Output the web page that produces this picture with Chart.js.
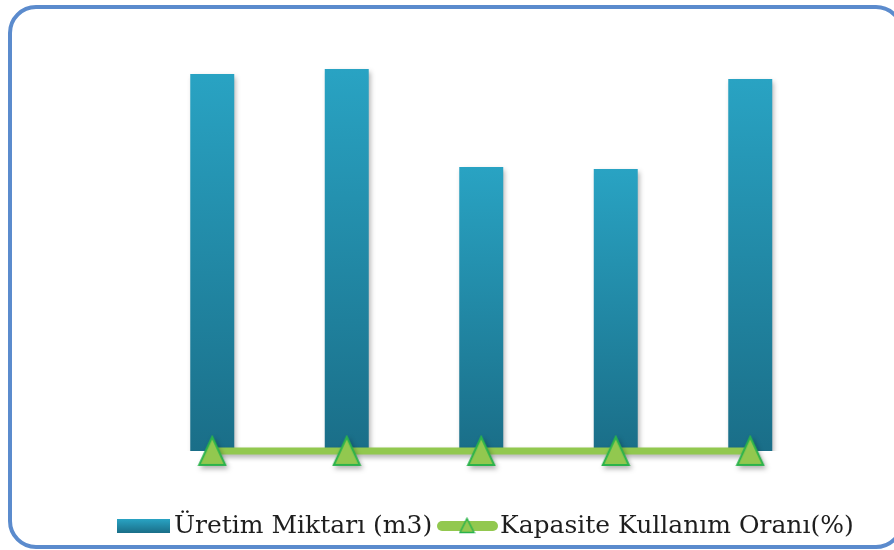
<!DOCTYPE html>
<html>
<head>
<meta charset="utf-8">
<script src="https://cdn.jsdelivr.net/npm/chart.js@4.4.1/dist/chart.umd.min.js"></script>
<style>
  html, body { margin: 0; padding: 0; background: #fff; overflow: hidden; }
  #wrap { position: relative; width: 894px; height: 550px; overflow: hidden; }
  #frame {
    position: absolute; left: 8px; top: 5px;
    width: 888px; height: 536px;
    border: 4px solid #5b8bcd; border-radius: 28px;
  }
  #c { position: absolute; left: 0; top: 0; }
</style>
</head>
<body>
<div id="wrap">
  <div id="frame"></div>
  <canvas id="c" width="894" height="550"></canvas>
</div>
<script>
// Yıllar (eksende gösterilmiyor)
const categories = ['2009', '2010', '2011', '2012', '2013'];
// Üretim miktarı, m3
const productionValues = [377000, 382000, 284000, 282000, 372000];
// Kapasite kullanım oranı, %
const capacityValues = [78, 80, 59, 58, 76];
const seriesLabels = ['Üretim Miktarı (m3)', 'Kapasite Kullanım Oranı(%)'];

const BAR_TOP = '#29a3c3';
const BAR_BOTTOM = '#1a6e88';
const LINE_GREEN = '#92c84f';
const TRI_EDGE = '#2bb34b';

function barGradient(ctx, yTop, yBottom) {
  const g = ctx.createLinearGradient(0, yTop, 0, yBottom);
  g.addColorStop(0, BAR_TOP);
  g.addColorStop(1, BAR_BOTTOM);
  return g;
}

// Triangle marker image (slightly taller than wide)
function triangleImage(w, h, lw) {
  const cv = document.createElement('canvas');
  cv.width = Math.ceil(w + lw * 2); cv.height = Math.ceil(h + lw * 2);
  const x = cv.getContext('2d');
  x.beginPath();
  x.moveTo(cv.width / 2, lw);
  x.lineTo(cv.width - lw, cv.height - lw);
  x.lineTo(lw, cv.height - lw);
  x.closePath();
  x.fillStyle = LINE_GREEN; x.fill();
  x.lineJoin = 'miter';
  x.lineWidth = lw; x.strokeStyle = TRI_EDGE; x.stroke();
  return cv;
}
const triMarker = triangleImage(26, 28, 2);
const triLegend = triangleImage(14, 14, 1.5);

const shadowPlugin = {
  id: 'softShadow',
  beforeDatasetDraw(chart) {
    const ctx = chart.ctx;
    ctx.save();
    ctx.shadowColor = 'rgba(0,0,0,0.3)';
    ctx.shadowBlur = 5;
    ctx.shadowOffsetX = 2;
    ctx.shadowOffsetY = 3;
  },
  afterDatasetDraw(chart) { chart.ctx.restore(); }
};

const bottomLegend = {
  id: 'bottomLegend',
  afterDraw(chart) {
    const ctx = chart.ctx;
    const ds = chart.data.datasets;
    const barDs = ds.find(d => d.type === 'bar');
    const lineDs = ds.find(d => d.type === 'line');
    const baseY = 533;
    ctx.save();
    ctx.font = '25px "DejaVu Serif"';
    ctx.textBaseline = 'alphabetic';
    // bar swatch
    ctx.fillStyle = barGradient(ctx, 519, 533);
    ctx.fillRect(117, 519, 53, 14);
    ctx.fillStyle = '#1e1e1e';
    ctx.fillText(barDs.label, 174, baseY);
    // line swatch
    ctx.strokeStyle = LINE_GREEN;
    ctx.lineWidth = 10;
    ctx.lineCap = 'round';
    ctx.beginPath();
    ctx.moveTo(442, 526); ctx.lineTo(493, 526);
    ctx.stroke();
    ctx.drawImage(triLegend, 467 - triLegend.width / 2, 517);
    ctx.fillStyle = '#1e1e1e';
    ctx.fillText(lineDs.label, 500, baseY);
    ctx.restore();
  }
};

new Chart(document.getElementById('c'), {
  data: {
    labels: categories,
    datasets: [
      {
        type: 'line',
        label: seriesLabels[1],
        data: capacityValues,
        order: 0,
        clip: false,
        borderColor: LINE_GREEN,
        borderWidth: 7,
        pointStyle: triMarker,
        pointRadius: 14,
        tension: 0
      },
      {
        type: 'bar',
        label: seriesLabels[0],
        data: productionValues,
        order: 1,
        barPercentage: 0.327,
        categoryPercentage: 1,
        backgroundColor(ctx) {
          const chart = ctx.chart;
          if (!chart.chartArea || ctx.raw == null) return BAR_BOTTOM;
          const y = chart.scales.y;
          return barGradient(chart.ctx, y.getPixelForValue(ctx.raw), y.getPixelForValue(0));
        }
      }
    ]
  },
  options: {
    responsive: false,
    animation: false,
    layout: { padding: { left: 145, right: 76.5, top: 31, bottom: 99 } },
    scales: {
      x: { display: false },
      y: { display: false, min: 0, max: 420000 }
    },
    plugins: { legend: { display: false }, tooltip: { enabled: false } }
  },
  plugins: [shadowPlugin, bottomLegend]
});
</script>
</body>
</html>
